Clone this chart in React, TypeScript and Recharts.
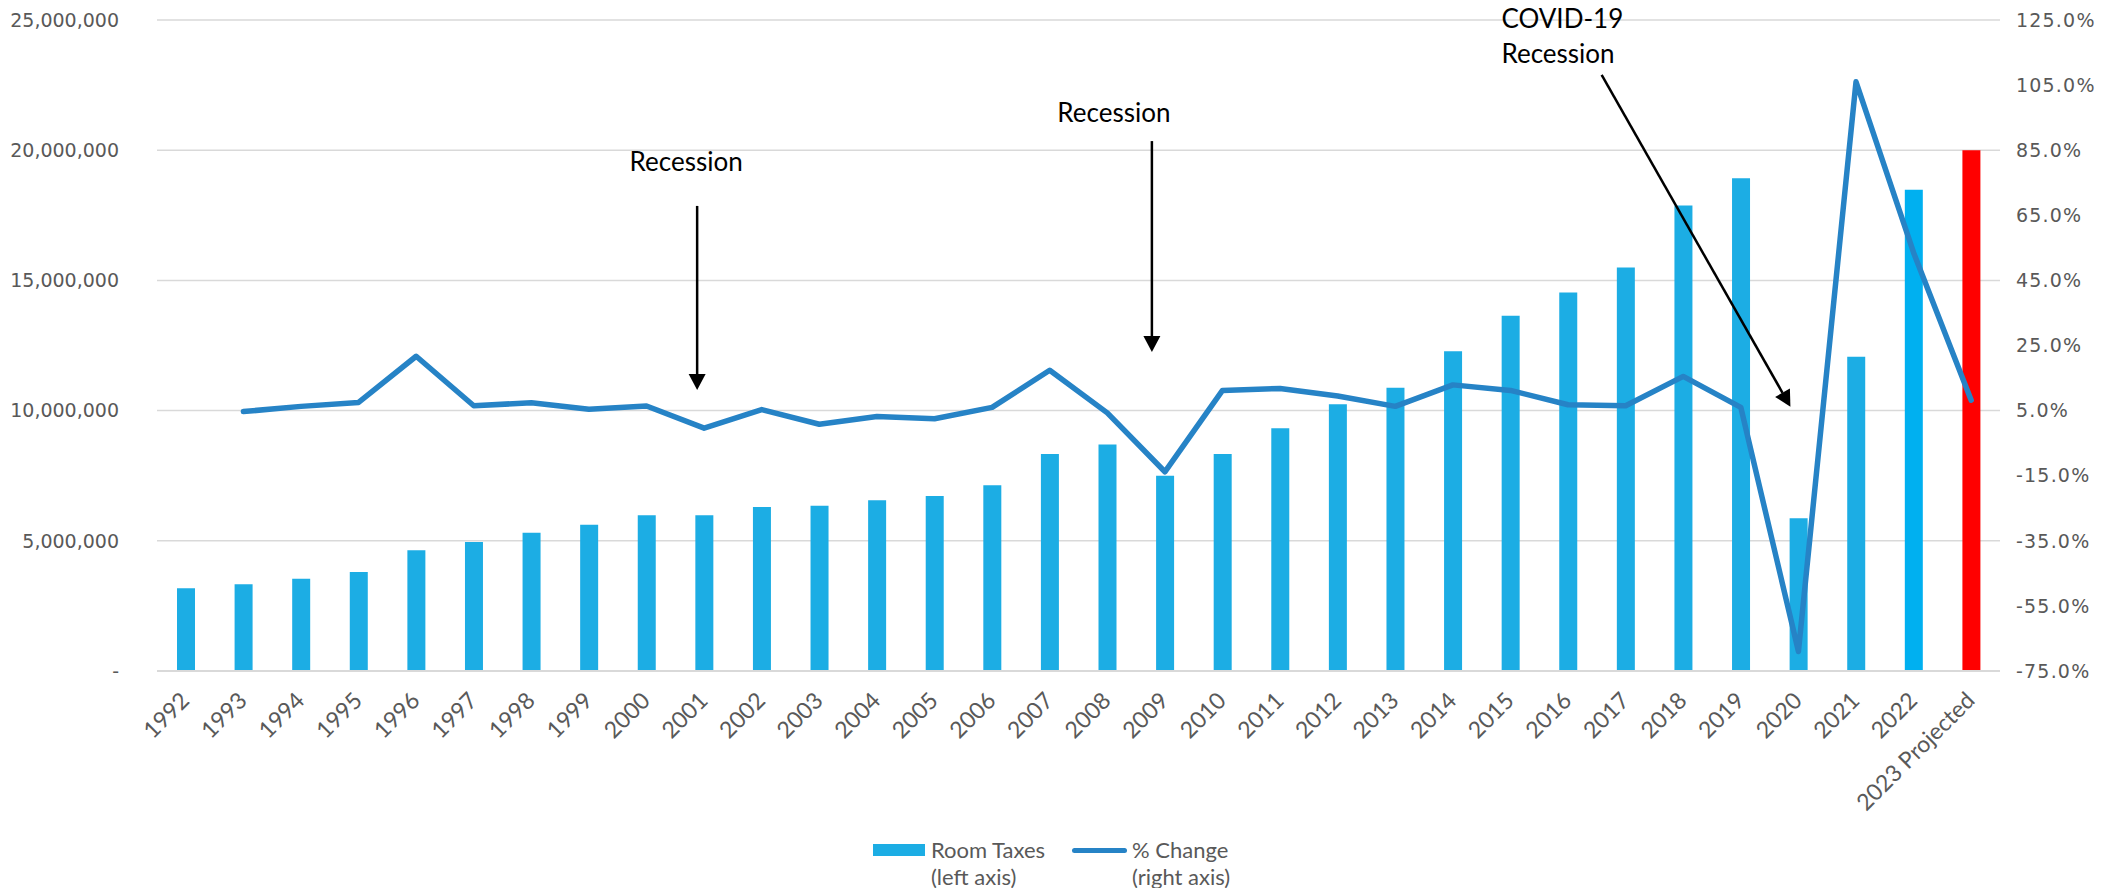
import React from 'react';
import {
  Bar,
  CartesianGrid,
  Cell,
  ComposedChart,
  Legend,
  Line,
  ReferenceDot,
  ReferenceLine,
  XAxis,
  YAxis,
} from 'recharts';

const years = [
  '1992', '1993', '1994', '1995', '1996', '1997', '1998', '1999', '2000', '2001',
  '2002', '2003', '2004', '2005', '2006', '2007', '2008', '2009', '2010', '2011',
  '2012', '2013', '2014', '2015', '2016', '2017', '2018', '2019', '2020', '2021',
  '2022', '2023 Projected',
];

const roomTaxes = [
  3180000, 3330000, 3540000, 3800000, 4640000, 4950000, 5310000, 5620000, 5980000, 5980000,
  6300000, 6350000, 6560000, 6720000, 7130000, 8330000, 8700000, 7500000, 8330000, 9320000,
  10240000, 10880000, 12280000, 13640000, 14540000, 15500000, 17880000, 18920000, 5870000, 12070000,
  18480000, 20000000,
];

const pctChange = [
  null, 4.7, 6.3, 7.5, 21.7, 6.5, 7.4, 5.4, 6.4, -0.4,
  5.3, 0.8, 3.2, 2.5, 6.0, 17.4, 4.3, -13.8, 11.2, 11.8,
  9.5, 6.3, 12.9, 11.2, 6.8, 6.5, 15.5, 6.0, -69.0, 106.0,
  53.5, 8.2,
];

const leftTicks = [0, 5000000, 10000000, 15000000, 20000000, 25000000];
const rightTicks = [-75, -55, -35, -15, 5, 25, 45, 65, 85, 105, 125];

const data = years.map((year, i) => ({
  year,
  roomTaxes: roomTaxes[i],
  pctChange: pctChange[i],
}));

// annotations: anchored to a year + left-axis value, nudged sideways a few px
const arrows = [
  { from: { x: '2001', y: 17860000 }, to: { x: '2001', y: 10790000 }, dx1: -7, dx2: -7 },
  { from: { x: '2009', y: 20350000 }, to: { x: '2009', y: 12250000 }, dx1: -13, dx2: -13 },
  { from: { x: '2017', y: 22890000 }, to: { x: '2020', y: 10150000 }, dx1: -24, dx2: -8 },
];

const notes = [
  { text: 'Recession', x: '2001', y: 19200000, dx: -18, anchor: 'middle' },
  { text: 'Recession', x: '2009', y: 21080000, dx: -51, anchor: 'middle' },
  { text: 'COVID-19', x: '2015', y: 24690000, dx: -9, anchor: 'start' },
  { text: 'Recession', x: '2015', y: 23350000, dx: -9, anchor: 'start' },
];

const BAR_BLUE = '#1CADE4';
const LINE_BLUE = '#2683C6';
const TEXT_GRAY = '#595959';

const barFill = (year: string) => {
  if (year === '2023 Projected') return '#FF0000';
  if (year === '2022') return '#00B0F0';
  return BAR_BLUE;
};

const XTick = ({ x, y, payload }: any) => {
  const ax = x + 5;
  const ay = y + 29;
  return (
    <text
      x={ax}
      y={ay}
      transform={`rotate(-45 ${ax} ${ay})`}
      textAnchor="end"
      fontFamily="Lato"
      fontSize={23}
      fill={TEXT_GRAY}
    >
      {payload.value}
    </text>
  );
};

const arrowShape = (dx1: number, dx2: number) => (props: any) => {
  const x1 = props.x1 + dx1;
  const x2 = props.x2 + dx2;
  const { y1, y2 } = props;
  const ang = Math.atan2(y2 - y1, x2 - x1);
  const len = 16;
  const half = 8.5;
  const bx = x2 - len * Math.cos(ang);
  const by = y2 - len * Math.sin(ang);
  const px = -Math.sin(ang) * half;
  const py = Math.cos(ang) * half;
  return (
    <g>
      <line x1={x1} y1={y1} x2={bx} y2={by} stroke="#000" strokeWidth={2.5} />
      <polygon points={`${x2},${y2} ${bx + px},${by + py} ${bx - px},${by - py}`} fill="#000" />
    </g>
  );
};

const noteShape = (text: string, anchor: string, dx: number) => (p: any) => (
  <text x={p.cx + dx} y={p.cy} textAnchor={anchor} fontFamily="Lato" fontSize={26} fill="#000">
    {text}
  </text>
);

const LegendContent = () => (
  <div
    style={{
      display: 'flex',
      paddingLeft: 873,
      fontFamily: 'Lato',
      fontSize: 22,
      lineHeight: '27px',
      color: TEXT_GRAY,
    }}
  >
    <div style={{ display: 'flex', alignItems: 'flex-start' }}>
      <div style={{ width: 52, height: 12, background: BAR_BLUE, marginTop: 8, marginRight: 6 }} />
      <div style={{ width: 141 }}>
        Room Taxes
        <br />
        (left axis)
      </div>
    </div>
    <div style={{ display: 'flex', alignItems: 'flex-start' }}>
      <div
        style={{
          width: 55,
          height: 5,
          borderRadius: 3,
          background: LINE_BLUE,
          marginTop: 12,
          marginRight: 5,
        }}
      />
      <div>
        % Change
        <br />
        (right axis)
      </div>
    </div>
  </div>
);

export default function App() {
  return (
    <div style={{ position: 'absolute', left: 0, top: 0, background: '#fff' }}>
      <ComposedChart width={2126} height={888} data={data} margin={{ top: 20, right: 0, bottom: 0, left: 0 }}>
        <CartesianGrid yAxisId="left" vertical={false} stroke="#D9D9D9" strokeWidth={1.5} />
        <XAxis
          dataKey="year"
          interval={0}
          height={217}
          tickSize={0}
          tickLine={false}
          axisLine={{ stroke: '#D9D9D9', strokeWidth: 2 }}
          tick={<XTick />}
        />
        <YAxis
          yAxisId="left"
          width={157}
          domain={[0, 25000000]}
          ticks={leftTicks}
          interval={0}
          axisLine={false}
          tickLine={false}
          tickSize={0}
          tickMargin={38}
          tick={{ fill: TEXT_GRAY, fontFamily: 'DejaVu Sans', fontSize: 19 }}
          tickFormatter={(v: number) => (v === 0 ? '-' : v.toLocaleString('en-US'))}
        />
        <YAxis
          yAxisId="right"
          orientation="right"
          width={126}
          domain={[-75, 125]}
          ticks={rightTicks}
          interval={0}
          axisLine={false}
          tickLine={false}
          tickSize={0}
          tickMargin={16}
          tick={{ fill: TEXT_GRAY, fontFamily: 'DejaVu Sans', fontSize: 19, letterSpacing: 1.2 }}
          tickFormatter={(v: number) => `${v.toFixed(1)}%`}
        />
        <Bar dataKey="roomTaxes" yAxisId="left" barSize={18} isAnimationActive={false}>
          {data.map((d) => (
            <Cell key={d.year} fill={barFill(d.year)} />
          ))}
        </Bar>
        <Line
          type="linear"
          dataKey="pctChange"
          yAxisId="right"
          stroke={LINE_BLUE}
          strokeWidth={5.5}
          strokeLinecap="round"
          strokeLinejoin="round"
          dot={false}
          activeDot={false}
          isAnimationActive={false}
        />
        {arrows.map((a, i) => (
          <ReferenceLine
            key={`arrow-${i}`}
            yAxisId="left"
            segment={[a.from, a.to]}
            shape={arrowShape(a.dx1, a.dx2)}
          />
        ))}
        {notes.map((n, i) => (
          <ReferenceDot
            key={`note-${i}`}
            yAxisId="left"
            x={n.x}
            y={n.y}
            r={0}
            shape={noteShape(n.text, n.anchor, n.dx)}
          />
        ))}
        <Legend
          verticalAlign="middle"
          layout="horizontal"
          content={<LegendContent />}
          wrapperStyle={{ top: 836, left: 0, width: 2126 }}
        />
      </ComposedChart>
    </div>
  );
}
